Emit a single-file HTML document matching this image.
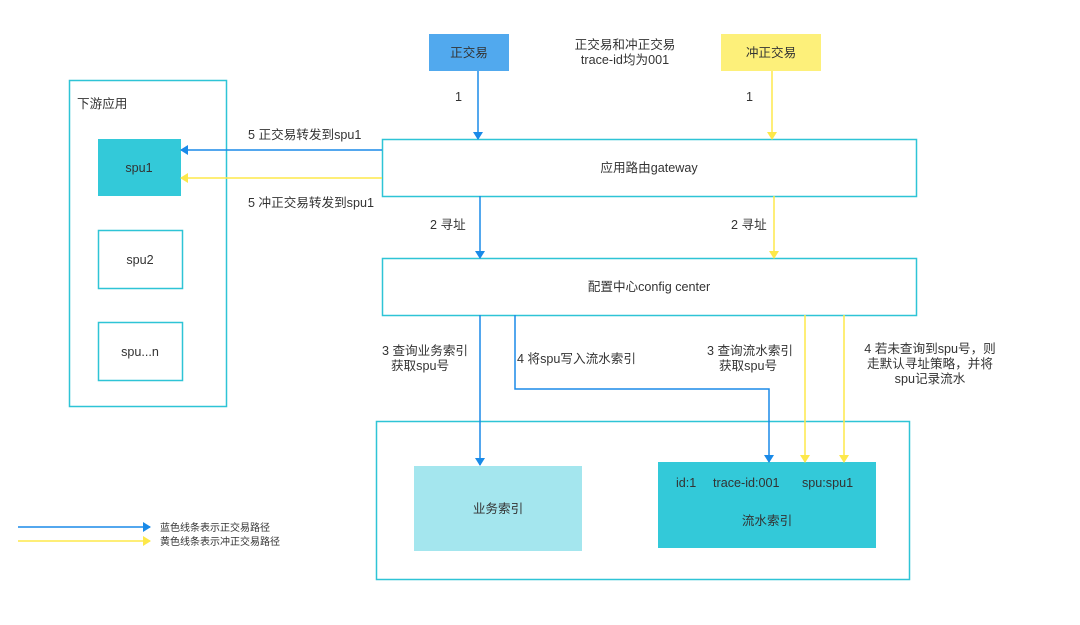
<!DOCTYPE html>
<html><head><meta charset="utf-8"><style>
body{margin:0;background:#fff}
text{font-family:"Liberation Sans","Noto Sans CJK SC",sans-serif;fill:#333;font-size:12.6px}
</style></head><body>
<svg width="1080" height="620" viewBox="0 0 1080 620" xmlns="http://www.w3.org/2000/svg">
<defs>
<marker id="b" markerWidth="8" markerHeight="10" refX="7" refY="5" orient="auto" markerUnits="userSpaceOnUse"><path d="M0,0 L8,5 L0,10 Z" fill="#1a8ae8"/></marker>
<marker id="y" markerWidth="8" markerHeight="10" refX="7" refY="5" orient="auto" markerUnits="userSpaceOnUse"><path d="M0,0 L8,5 L0,10 Z" fill="#fde84a"/></marker>
</defs>
<rect x="429" y="34" width="80" height="37" fill="#51a9ee"/>
<text x="469" y="57" text-anchor="middle">正交易</text>
<rect x="721" y="34" width="100" height="37" fill="#fdf07a"/>
<text x="771" y="57" text-anchor="middle">冲正交易</text>
<text x="625" y="49" text-anchor="middle">正交易和冲正交易</text>
<text x="625" y="64" text-anchor="middle">trace-id均为001</text>

<rect x="382.5" y="139.5" width="534" height="57" fill="#fff" stroke="#2ec4d6" stroke-width="1.5"/>
<text x="649" y="172" text-anchor="middle">应用路由gateway</text>
<rect x="382.5" y="258.5" width="534" height="57" fill="#fff" stroke="#2ec4d6" stroke-width="1.5"/>
<text x="649" y="291" text-anchor="middle">配置中心config center</text>

<rect x="69.5" y="80.5" width="157" height="326" fill="none" stroke="#2ec4d6" stroke-width="1.5"/>
<text x="77" y="108">下游应用</text>
<rect x="98" y="139" width="83" height="57" fill="#33c9d9"/>
<text x="139" y="172" text-anchor="middle">spu1</text>
<rect x="98.5" y="230.5" width="84" height="58" fill="#fff" stroke="#2ec4d6" stroke-width="1.5"/>
<text x="140" y="264" text-anchor="middle">spu2</text>
<rect x="98.5" y="322.5" width="84" height="58" fill="#fff" stroke="#2ec4d6" stroke-width="1.5"/>
<text x="140" y="356" text-anchor="middle">spu...n</text>

<rect x="376.5" y="421.5" width="533" height="158" fill="none" stroke="#2ec4d6" stroke-width="1.5"/>
<rect x="414" y="466" width="168" height="85" fill="#a4e6ee"/>
<text x="498" y="513" text-anchor="middle">业务索引</text>
<rect x="658" y="462" width="218" height="86" fill="#33c9d9"/>
<text x="676" y="487">id:1</text>
<text x="713" y="487">trace-id:001</text>
<text x="802" y="487">spu:spu1</text>
<text x="767" y="525" text-anchor="middle">流水索引</text>

<g stroke-width="1.5" fill="none">
<line x1="478" y1="71" x2="478" y2="139" stroke="#1a8ae8" marker-end="url(#b)"/>
<line x1="772" y1="71" x2="772" y2="139" stroke="#fde84a" marker-end="url(#y)"/>
<line x1="382" y1="150" x2="181" y2="150" stroke="#1a8ae8" marker-end="url(#b)"/>
<line x1="382" y1="178" x2="181" y2="178" stroke="#fde84a" marker-end="url(#y)"/>
<line x1="480" y1="196" x2="480" y2="258" stroke="#1a8ae8" marker-end="url(#b)"/>
<line x1="774" y1="196" x2="774" y2="258" stroke="#fde84a" marker-end="url(#y)"/>
<line x1="480" y1="315" x2="480" y2="465" stroke="#1a8ae8" marker-end="url(#b)"/>
<polyline points="515,315 515,389 769,389 769,462" stroke="#1a8ae8" marker-end="url(#b)"/>
<line x1="805" y1="315" x2="805" y2="462" stroke="#fde84a" marker-end="url(#y)"/>
<line x1="844" y1="315" x2="844" y2="462" stroke="#fde84a" marker-end="url(#y)"/>
<line x1="18" y1="527" x2="150" y2="527" stroke="#1a8ae8" marker-end="url(#b)"/>
<line x1="18" y1="541" x2="150" y2="541" stroke="#fde84a" marker-end="url(#y)"/>
</g>

<text x="455" y="101">1</text>
<text x="746" y="101">1</text>
<text x="248" y="139">5 正交易转发到spu1</text>
<text x="248" y="207">5 冲正交易转发到spu1</text>
<text x="430" y="229">2 寻址</text>
<text x="731" y="229">2 寻址</text>
<text x="425" y="355" text-anchor="middle">3 查询业务索引</text>
<text x="420" y="370" text-anchor="middle">获取spu号</text>
<text x="517" y="363">4 将spu写入流水索引</text>
<text x="750" y="355" text-anchor="middle">3 查询流水索引</text>
<text x="748" y="370" text-anchor="middle">获取spu号</text>
<text x="930" y="353" text-anchor="middle">4 若未查询到spu号，则</text>
<text x="930" y="368" text-anchor="middle">走默认寻址策略，并将</text>
<text x="930" y="383" text-anchor="middle">spu记录流水</text>
<text x="160" y="531" style="font-size:10px">蓝色线条表示正交易路径</text>
<text x="160" y="545" style="font-size:10px">黄色线条表示冲正交易路径</text>
</svg>
</body></html>
